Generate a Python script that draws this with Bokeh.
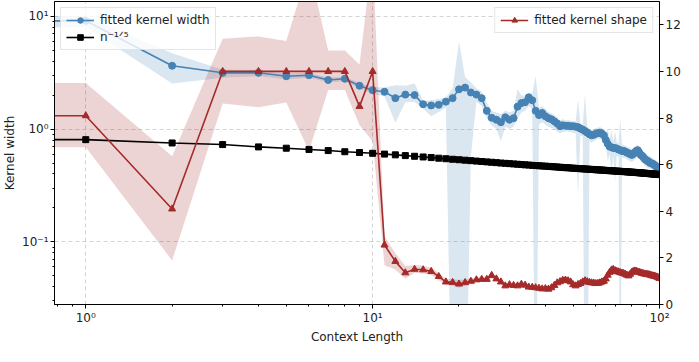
from bokeh.plotting import figure
from bokeh.models import (Range1d, LinearAxis, FixedTicker, Legend, LegendItem,
                          LinearScale)
from bokeh.embed import file_html
from bokeh.resources import INLINE

ctx = list(range(1, 101))

width_mean = [9.1, 3.64, 3.15, 3.15, 2.94, 3.0, 2.72, 2.79, 2.42, 2.21,
              2.14, 1.88, 2.02, 2.0, 1.66, 1.62, 1.64, 1.75, 1.88, 2.25,
              2.33, 2.11, 2.02, 1.88, 1.45, 1.26, 1.21, 1.15, 1.27, 1.21,
              1.25, 1.58, 1.70, 1.73, 1.91, 1.80, 1.45, 1.33, 1.39, 1.30,
              1.25, 1.22, 1.17, 1.12, 1.06, 1.08, 1.07, 1.07, 1.06, 1.06,
              1.05, 1.04, 1.01, 0.99, 0.96, 0.93, 0.90, 0.88, 0.89, 0.91,
              0.92, 0.93, 0.91, 0.88, 0.80, 0.74, 0.70, 0.69, 0.68, 0.68,
              0.67, 0.66, 0.65, 0.64, 0.64, 0.63, 0.62, 0.61, 0.60, 0.59,
              0.60, 0.62, 0.64, 0.65, 0.62, 0.59, 0.58, 0.56, 0.54, 0.53,
              0.52, 0.51, 0.50, 0.495, 0.49, 0.48, 0.47, 0.46, 0.45, 0.435]

width_lo = [8.0, 2.54, 2.85, 2.95, 2.75, 2.85, 2.6, 2.65, 2.3, 2.05,
            1.95, 1.14, 1.73, 1.75, 1.51, 1.3, 1.42, 1.55, 0.001, 0.001,
            0.001, 0.57, 1.75, 1.6, 1.25, 1.08, 1.0, 0.78, 1.05, 1.0,
            1.05, 1.25, 1.4, 1.45, 1.6, 1.5, 0.001, 1.1, 1.15, 1.1,
            1.05, 1.02, 1.0, 0.95, 0.92, 0.94, 0.95, 0.95, 0.94, 0.93,
            0.92, 0.26, 0.88, 0.86, 0.001, 0.001, 0.78, 0.76, 0.78, 0.8,
            0.82, 0.82, 0.8, 0.78, 0.7, 0.52, 0.6, 0.4, 0.58, 0.34,
            0.58, 0.57, 0.001, 0.56, 0.56, 0.55, 0.54, 0.53, 0.52, 0.51,
            0.52, 0.54, 0.56, 0.57, 0.54, 0.52, 0.51, 0.49, 0.47, 0.46,
            0.45, 0.45, 0.44, 0.44, 0.43, 0.42, 0.41, 0.4, 0.39, 0.38]

width_hi = [10.0, 4.7, 3.35, 3.35, 3.1, 3.15, 2.85, 2.92, 2.55, 2.37,
            2.33, 2.44, 2.42, 2.54, 1.78, 1.8, 1.85, 1.9, 2.3, 5.9,
            2.9, 2.6, 2.3, 2.15, 1.7, 1.45, 1.4, 1.35, 1.45, 1.4,
            1.45, 2.25, 2.0, 1.95, 2.1, 2.05, 2.95, 1.55, 1.6, 1.5,
            1.42, 1.38, 1.33, 1.27, 1.2, 1.22, 1.2, 1.2, 1.19, 1.18,
            1.17, 1.8, 1.12, 1.1, 2.05, 1.05, 1.01, 0.99, 1.0, 1.02,
            1.03, 1.04, 1.02, 0.99, 0.9, 0.99, 0.8, 0.98, 0.78, 0.95,
            0.76, 0.75, 1.23, 0.73, 0.72, 0.71, 0.7, 0.69, 0.68, 0.67,
            0.68, 0.7, 0.72, 0.73, 0.7, 0.67, 0.65, 0.63, 0.61, 0.6,
            0.59, 0.58, 0.57, 0.56, 0.55, 0.54, 0.53, 0.52, 0.51, 0.49]

n_pow = [0.806, 0.753, 0.729, 0.695, 0.677, 0.660, 0.645, 0.630, 0.620, 0.610,
         0.600, 0.591, 0.582, 0.574, 0.566, 0.559, 0.552, 0.546, 0.540, 0.535,
         0.530, 0.525, 0.520, 0.516, 0.512, 0.508, 0.504, 0.500, 0.497, 0.494,
         0.491, 0.488, 0.485, 0.482, 0.480, 0.477, 0.475, 0.473, 0.471, 0.469,
         0.467, 0.465, 0.463, 0.461, 0.459, 0.457, 0.455, 0.454, 0.452, 0.450,
         0.449, 0.447, 0.446, 0.444, 0.443, 0.442, 0.440, 0.439, 0.438, 0.436,
         0.435, 0.434, 0.433, 0.432, 0.430, 0.429, 0.428, 0.427, 0.426, 0.425,
         0.424, 0.423, 0.422, 0.421, 0.420, 0.419, 0.418, 0.417, 0.416, 0.415,
         0.414, 0.413, 0.412, 0.411, 0.410, 0.409, 0.408, 0.407, 0.406, 0.405,
         0.404, 0.403, 0.402, 0.401, 0.400, 0.399, 0.398, 0.397, 0.396, 0.395]

shape_mean = [8.1, 4.1, 10.0, 10.0, 10.0, 10.0, 10.0, 10.0, 8.5, 10.0,
              2.55, 1.85, 1.36, 1.51, 1.49, 1.42, 1.2, 0.97, 0.95, 0.88,
              0.94, 1.0, 1.06, 1.08, 1.08, 1.25, 1.1, 0.97, 0.8, 0.85,
              0.82, 0.80, 0.87, 0.83, 0.75, 0.74, 0.72, 0.70, 0.67, 0.68,
              0.66, 0.72, 0.82, 0.93, 0.98, 1.04, 1.05, 1.02, 0.97, 0.85,
              0.80, 0.86, 0.90, 0.97, 1.02, 0.98, 0.95, 0.93, 0.92, 0.90,
              0.91, 0.93, 0.97, 1.00, 1.10, 1.26, 1.38, 1.47, 1.50, 1.45,
              1.42, 1.40, 1.37, 1.35, 1.33, 1.30, 1.26, 1.23, 1.30, 1.38,
              1.42, 1.44, 1.43, 1.40, 1.38, 1.36, 1.34, 1.32, 1.31, 1.30,
              1.29, 1.28, 1.26, 1.24, 1.23, 1.21, 1.20, 1.18, 1.15, 1.12]

shape_lo = [6.75, 1.89, 8.62, 8.46, 8.67, 6.6, 9.2, 9.2, 7.7, 7.0,
            1.68, 1.5, 1.1, 1.35, 1.33, 1.27, 1.05, 0.83, 0.82, 0.72,
            0.8, 0.88, 0.95, 0.98, 0.98, 1.13, 1.0, 0.87, 0.7, 0.75,
            0.73, 0.71, 0.78, 0.74, 0.66, 0.65, 0.63, 0.61, 0.58, 0.59,
            0.57, 0.63, 0.73, 0.84, 0.88, 0.94, 0.95, 0.92, 0.87, 0.76,
            0.71, 0.77, 0.80, 0.86, 0.90, 0.87, 0.85, 0.83, 0.82, 0.80,
            0.81, 0.83, 0.86, 0.89, 0.97, 1.10, 1.20, 1.28, 1.30, 1.27,
            1.25, 1.24, 1.22, 1.20, 1.19, 1.16, 1.12, 1.09, 1.15, 1.22,
            1.27, 1.29, 1.28, 1.25, 1.23, 1.21, 1.19, 1.17, 1.16, 1.15,
            1.14, 1.13, 1.11, 1.09, 1.08, 1.06, 1.05, 1.03, 1.00, 0.97]

shape_hi = [9.5, 6.36, 11.4, 11.5, 11.3, 14.5, 10.9, 10.9, 10.3, 15.0,
            2.93, 2.2, 1.65, 1.7, 1.66, 1.58, 1.35, 1.1, 1.08, 1.05,
            1.08, 1.13, 1.17, 1.18, 1.18, 1.37, 1.2, 1.07, 0.9, 0.95,
            0.91, 0.89, 0.96, 0.92, 0.84, 0.83, 0.81, 0.79, 0.76, 0.77,
            0.75, 0.81, 0.91, 1.02, 1.08, 1.14, 1.15, 1.12, 1.07, 0.94,
            0.89, 0.95, 1.00, 1.08, 1.14, 1.09, 1.05, 1.03, 1.02, 1.00,
            1.01, 1.03, 1.08, 1.11, 1.23, 1.42, 1.58, 1.68, 1.72, 1.64,
            1.59, 1.56, 1.52, 1.50, 1.47, 1.44, 1.40, 1.37, 1.45, 1.54,
            1.57, 1.59, 1.58, 1.55, 1.53, 1.51, 1.49, 1.47, 1.46, 1.45,
            1.44, 1.43, 1.41, 1.39, 1.38, 1.36, 1.35, 1.33, 1.30, 1.27]

x_ticks = [1, 10, 100]
x_tick_labels = ["10⁰", "10¹", "10²"]
y_ticks = [0.1, 1, 10]
y_tick_labels = ["10⁻¹", "10⁰", "10¹"]
y2_ticks = [0, 2, 4, 6, 8, 10, 12]

BLUE = "#4682b4"
RED = "#a52a2a"
FONT = "DejaVu Sans"

# matplotlib draws the clipped context-length-0 point far to the left;
# mimic by extending each series flat to the left edge
x_ext = [0.5] + ctx
def ext(a):
    return [a[0]] + list(a)

p = figure(width=683, height=346, x_axis_type="log", y_axis_type="log",
           x_range=Range1d(0.778, 100), y_range=Range1d(0.0279, 13.5),
           output_backend="svg", toolbar_location=None,
           min_border_left=50, min_border_top=1, min_border_right=2,
           min_border_bottom=0)
p.extra_y_ranges = {"shape": Range1d(0, 13)}
p.extra_y_scales = {"shape": LinearScale()}

p.outline_line_color = "black"
p.outline_line_width = 1
p.background_fill_color = "white"

# bands
p.varea(x=x_ext, y1=ext(width_lo), y2=ext(width_hi), fill_color=BLUE, fill_alpha=0.2)
p.varea(x=x_ext, y1=ext(shape_lo), y2=ext(shape_hi), fill_color=RED, fill_alpha=0.2,
        y_range_name="shape")

# lines and markers
lw = p.line(x_ext, ext(width_mean), line_color=BLUE, line_width=1.6)
mw = p.scatter(ctx, width_mean, marker="circle", size=7, fill_color=BLUE, line_color=BLUE)
ln = p.line(x_ext, ext(n_pow), line_color="black", line_width=1.6)
mn = p.scatter(ctx, n_pow, marker="square", size=6, fill_color="black", line_color="black")
ls = p.line(x_ext, ext(shape_mean), line_color=RED, line_width=1.6, y_range_name="shape")
ms = p.scatter(ctx, shape_mean, marker="triangle", size=7, fill_color=RED, line_color=RED,
               y_range_name="shape")

# axes
xax = p.xaxis[0]
xax.ticker = FixedTicker(ticks=x_ticks,
                         minor_ticks=[0.8, 0.9, 2, 3, 4, 5, 6, 7, 8, 9,
                                      20, 30, 40, 50, 60, 70, 80, 90])
xax.major_label_overrides = dict(zip(x_ticks, x_tick_labels))
xax.axis_label = "Context Length"

yax = p.yaxis[0]
yax.ticker = FixedTicker(ticks=y_ticks,
                         minor_ticks=[0.03, 0.04, 0.05, 0.06, 0.07, 0.08, 0.09,
                                      0.2, 0.3, 0.4, 0.5, 0.6, 0.7, 0.8, 0.9,
                                      2, 3, 4, 5, 6, 7, 8, 9])
yax.major_label_overrides = dict(zip(y_ticks, y_tick_labels))
yax.axis_label = "Kernel width"

y2 = LinearAxis(y_range_name="shape", ticker=FixedTicker(ticks=y2_ticks))
p.add_layout(y2, "right")

for ax in (xax, yax, y2):
    ax.axis_line_color = "black"
    ax.major_tick_line_color = "black"
    ax.minor_tick_line_color = "black"
    ax.major_tick_in = 0
    ax.major_tick_out = 4
    ax.minor_tick_in = 0
    ax.minor_tick_out = 2
    ax.major_label_text_font = FONT
    ax.major_label_text_font_size = "12px"
    ax.major_label_text_color = "#222222"
    ax.major_label_standoff = 2
    ax.axis_label_text_font = FONT
    ax.axis_label_text_font_size = "12px"
    ax.axis_label_text_font_style = "normal"
    ax.axis_label_text_color = "#222222"
    ax.axis_label_standoff = 2

# grid
for g in (p.xgrid[0], p.ygrid[0]):
    g.grid_line_color = "#b0b0b0"
    g.grid_line_dash = "4 3"
    g.grid_line_alpha = 0.7
    g.grid_line_width = 0.8

# legends
def style(leg):
    leg.label_text_font = FONT
    leg.label_text_font_size = "12px"
    leg.label_text_color = "#222222"
    leg.border_line_color = "#cccccc"
    leg.background_fill_alpha = 0.8
    leg.glyph_width = 28
    leg.glyph_height = 14
    leg.spacing = 3
    leg.padding = 5
    leg.margin = 6
    leg.label_standoff = 6

leg1 = Legend(items=[LegendItem(label="fitted kernel width", renderers=[lw, mw]),
                     LegendItem(label="n⁻¹ᐟ⁵", renderers=[ln, mn])],
              location="top_left")
style(leg1)
leg2 = Legend(items=[LegendItem(label="fitted kernel shape", renderers=[ls, ms])],
              location="top_right")
style(leg2)
p.add_layout(leg1)
p.add_layout(leg2)

open("out.html", "w").write(file_html(p, INLINE))
